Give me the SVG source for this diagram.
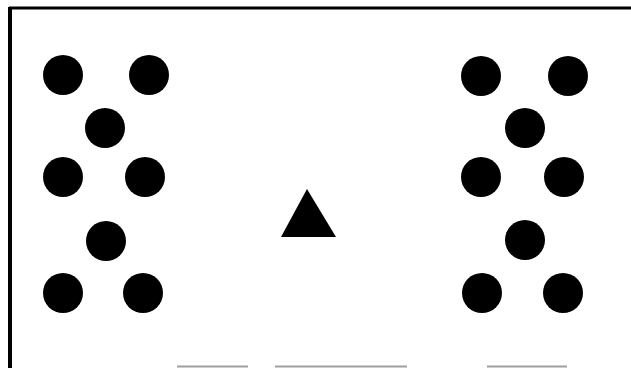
<svg xmlns="http://www.w3.org/2000/svg" width="631" height="368" viewBox="0 0 631 368">
<style>
.dot{fill:#000}
.frame{stroke:#000;fill:none}
.edge{stroke:#a0a0a0;stroke-width:2;fill:none}
</style>
<rect width="631" height="368" fill="#fff"/>
<g id="frame">
<line class="frame" x1="9" y1="8" x2="631" y2="8" stroke-width="3"/>
<line class="frame" x1="10" y1="7" x2="10" y2="368" stroke-width="4"/>
<line class="edge" x1="177" y1="366.5" x2="248" y2="366.5"/>
<line class="edge" x1="275" y1="366.5" x2="407" y2="366.5"/>
<line class="edge" x1="487" y1="366.5" x2="567" y2="366.5"/>
</g>
<g id="left">
<circle class="dot" cx="63" cy="75" r="20"/>
<circle class="dot" cx="149" cy="75" r="20"/>
<circle class="dot" cx="105" cy="128" r="20"/>
<circle class="dot" cx="63" cy="177" r="20"/>
<circle class="dot" cx="145" cy="177" r="20"/>
<circle class="dot" cx="106" cy="241" r="20"/>
<circle class="dot" cx="63" cy="293" r="20"/>
<circle class="dot" cx="143" cy="293" r="20"/>
</g>
<g id="right">
<circle class="dot" cx="481" cy="76" r="20"/>
<circle class="dot" cx="568" cy="76" r="20"/>
<circle class="dot" cx="525" cy="128" r="20"/>
<circle class="dot" cx="481" cy="177" r="20"/>
<circle class="dot" cx="564" cy="177" r="20"/>
<circle class="dot" cx="525" cy="240" r="20"/>
<circle class="dot" cx="482" cy="293" r="20"/>
<circle class="dot" cx="563" cy="293" r="20"/>
</g>
<g id="triangle">
<polygon points="307,189 336,237 281,237" fill="#000"/>
</g>
</svg>
